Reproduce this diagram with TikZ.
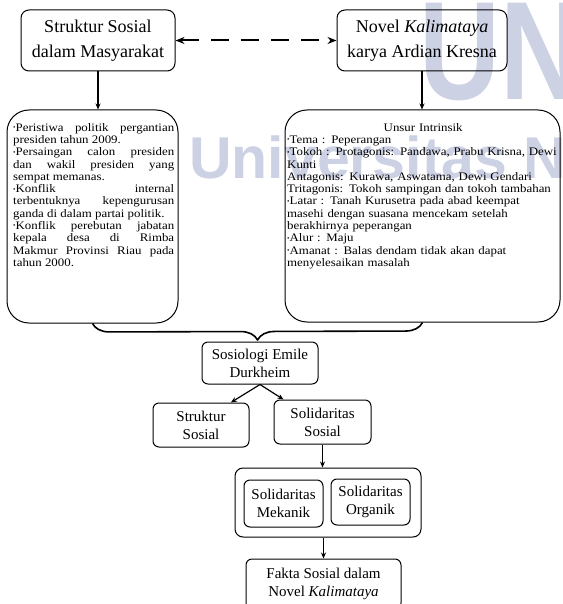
\documentclass[tikz,border=0pt]{standalone}
\usepackage{fontspec}
\setmainfont{Liberation Serif}
\newfontfamily\wmfont{Liberation Sans}
\newfontfamily\isifont{Liberation Serif}[FakeStretch=1.12]
\usetikzlibrary{arrows.meta,decorations.pathreplacing}
\definecolor{wmblue}{RGB}{204,209,228}
\newcommand\bul{\raisebox{.3ex}{\scalebox{.55}{•}}}
\newcommand\besar{\fontsize{18}{25}\selectfont}
\newcommand\sedang{\fontsize{15}{18}\selectfont}
\newcommand\kecil{\isifont\fontsize{11.5}{12.3}\selectfont\parindent=0pt\tolerance=10000\hyphenpenalty=10000}
\begin{document}
\begin{tikzpicture}[x=1pt,y=-1pt,>={Stealth[length=6pt,width=5pt]}, line join=round,
	kotak/.style={draw, line width=1pt, rounded corners=6pt, align=center, inner sep=0pt},
	panah/.style={->, line width=1.2pt}]
	\useasboundingbox (0,0) rectangle (562,604);
	% tanda air
	\node[wmblue, anchor=base west, inner sep=0pt, font=\wmfont\bfseries\fontsize{140}{140}\selectfont] (wmatas) at (419,100) {\scalebox{.8}[1]{UN}};
	\node[wmblue, anchor=base west, inner sep=0pt, font=\wmfont\bfseries\fontsize{59}{59}\selectfont] (wmbawah) at (189,178) {Universitas N};
	% kotak atas
	\node[kotak, rounded corners=8pt, minimum width=154, minimum height=61, font=\besar] (sosial) at (98,40.5) {Struktur Sosial\\dalam Masyarakat};
	\node[kotak, rounded corners=8pt, minimum width=170, minimum height=61, font=\besar] (novel) at (422,40.5) {Novel \textit{Kalimataya}\\karya Ardian Kresna};
	\node[kotak, rounded corners=22pt, minimum width=171, minimum height=213] (kiri) at (92.5,216.5) {};
	\node[kotak, rounded corners=22pt, minimum width=275, minimum height=212] (kanan) at (422.5,216) {};
	\node[anchor=north west, inner sep=0pt, text width=161, align=justify, font=\kecil] (kiritxt) at (13,123) {%
		\bul Peristiwa politik pergantian\linebreak presiden tahun 2009.\par
		\bul Persaingan calon presiden\linebreak dan wakil presiden yang\linebreak sempat memanas.\par
		\bul Konflik internal\linebreak terbentuknya kepengurusan\linebreak ganda di dalam partai politik.\par
		\bul Konflik perebutan jabatan\linebreak kepala desa di Rimba\linebreak Makmur Provinsi Riau pada\linebreak tahun 2000.};
	\node[anchor=north west, inner sep=0pt, text width=272, align=left, font=\kecil] (kanantxt) at (287,123) {%
		\makebox[272pt]{Unsur Intrinsik}\\
		\bul Tema : Peperangan\\
		\bul Tokoh : Protagonis: Pandawa, Prabu Krisna, Dewi\\
		Kunti\\
		Antagonis: Kurawa, Aswatama, Dewi Gendari\\
		Tritagonis: Tokoh sampingan dan tokoh tambahan\\
		\bul Latar : Tanah Kurusetra pada abad keempat\\
		masehi dengan suasana mencekam setelah\\
		berakhirnya peperangan\\
		\bul Alur : Maju\\
		\bul Amanat : Balas dendam tidak akan dapat\\
		menyelesaikan masalah};
	% kotak bawah
	\node[kotak, minimum width=116, minimum height=42, font=\sedang] (durk) at (260,363) {Sosiologi Emile\\Durkheim};
	\node[kotak, minimum width=96, minimum height=44, font=\sedang] (struk) at (201,425) {Struktur\\Sosial};
	\node[kotak, minimum width=97, minimum height=44, font=\sedang] (solid) at (322.5,422) {Solidaritas\\Sosial};
	\node[kotak, rounded corners=8pt, minimum width=186, minimum height=69] (solgrp) at (328,502.5) {};
	\node[kotak, minimum width=79, minimum height=47, font=\sedang] (mek) at (283.5,503.5) {Solidaritas\\Mekanik};
	\node[kotak, minimum width=79, minimum height=46, font=\sedang] (org) at (370.5,502) {Solidaritas\\Organik};
	\node[kotak, minimum width=155, minimum height=50, font=\sedang] (fakta) at (323.5,584) {Fakta Sosial dalam\\Novel \textit{Kalimataya}};
	% panah
	\draw[{Stealth[length=9pt,width=7pt]}-{Stealth[length=9pt,width=7pt]}, line width=2pt, dash pattern=on 18pt off 12pt] (sosial) -- (novel);
	\draw[panah] (sosial.south) -- (sosial.south |- kiri.north);
	\draw[panah] (novel.south) -- (novel.south |- kanan.north);
	\draw[line width=1.6pt, decorate, decoration={brace, amplitude=17pt}] (kanan.south) -- (kiri.south);
	\draw[panah] (durk.south) -- (struk.37);
	\draw[panah] (durk.south) -- (solid.150);
	\draw[panah] (solid.south) -- (solid.south |- solgrp.north);
	\draw[panah] (fakta.north |- solgrp.south) -- (fakta.north);
\end{tikzpicture}
\end{document}
